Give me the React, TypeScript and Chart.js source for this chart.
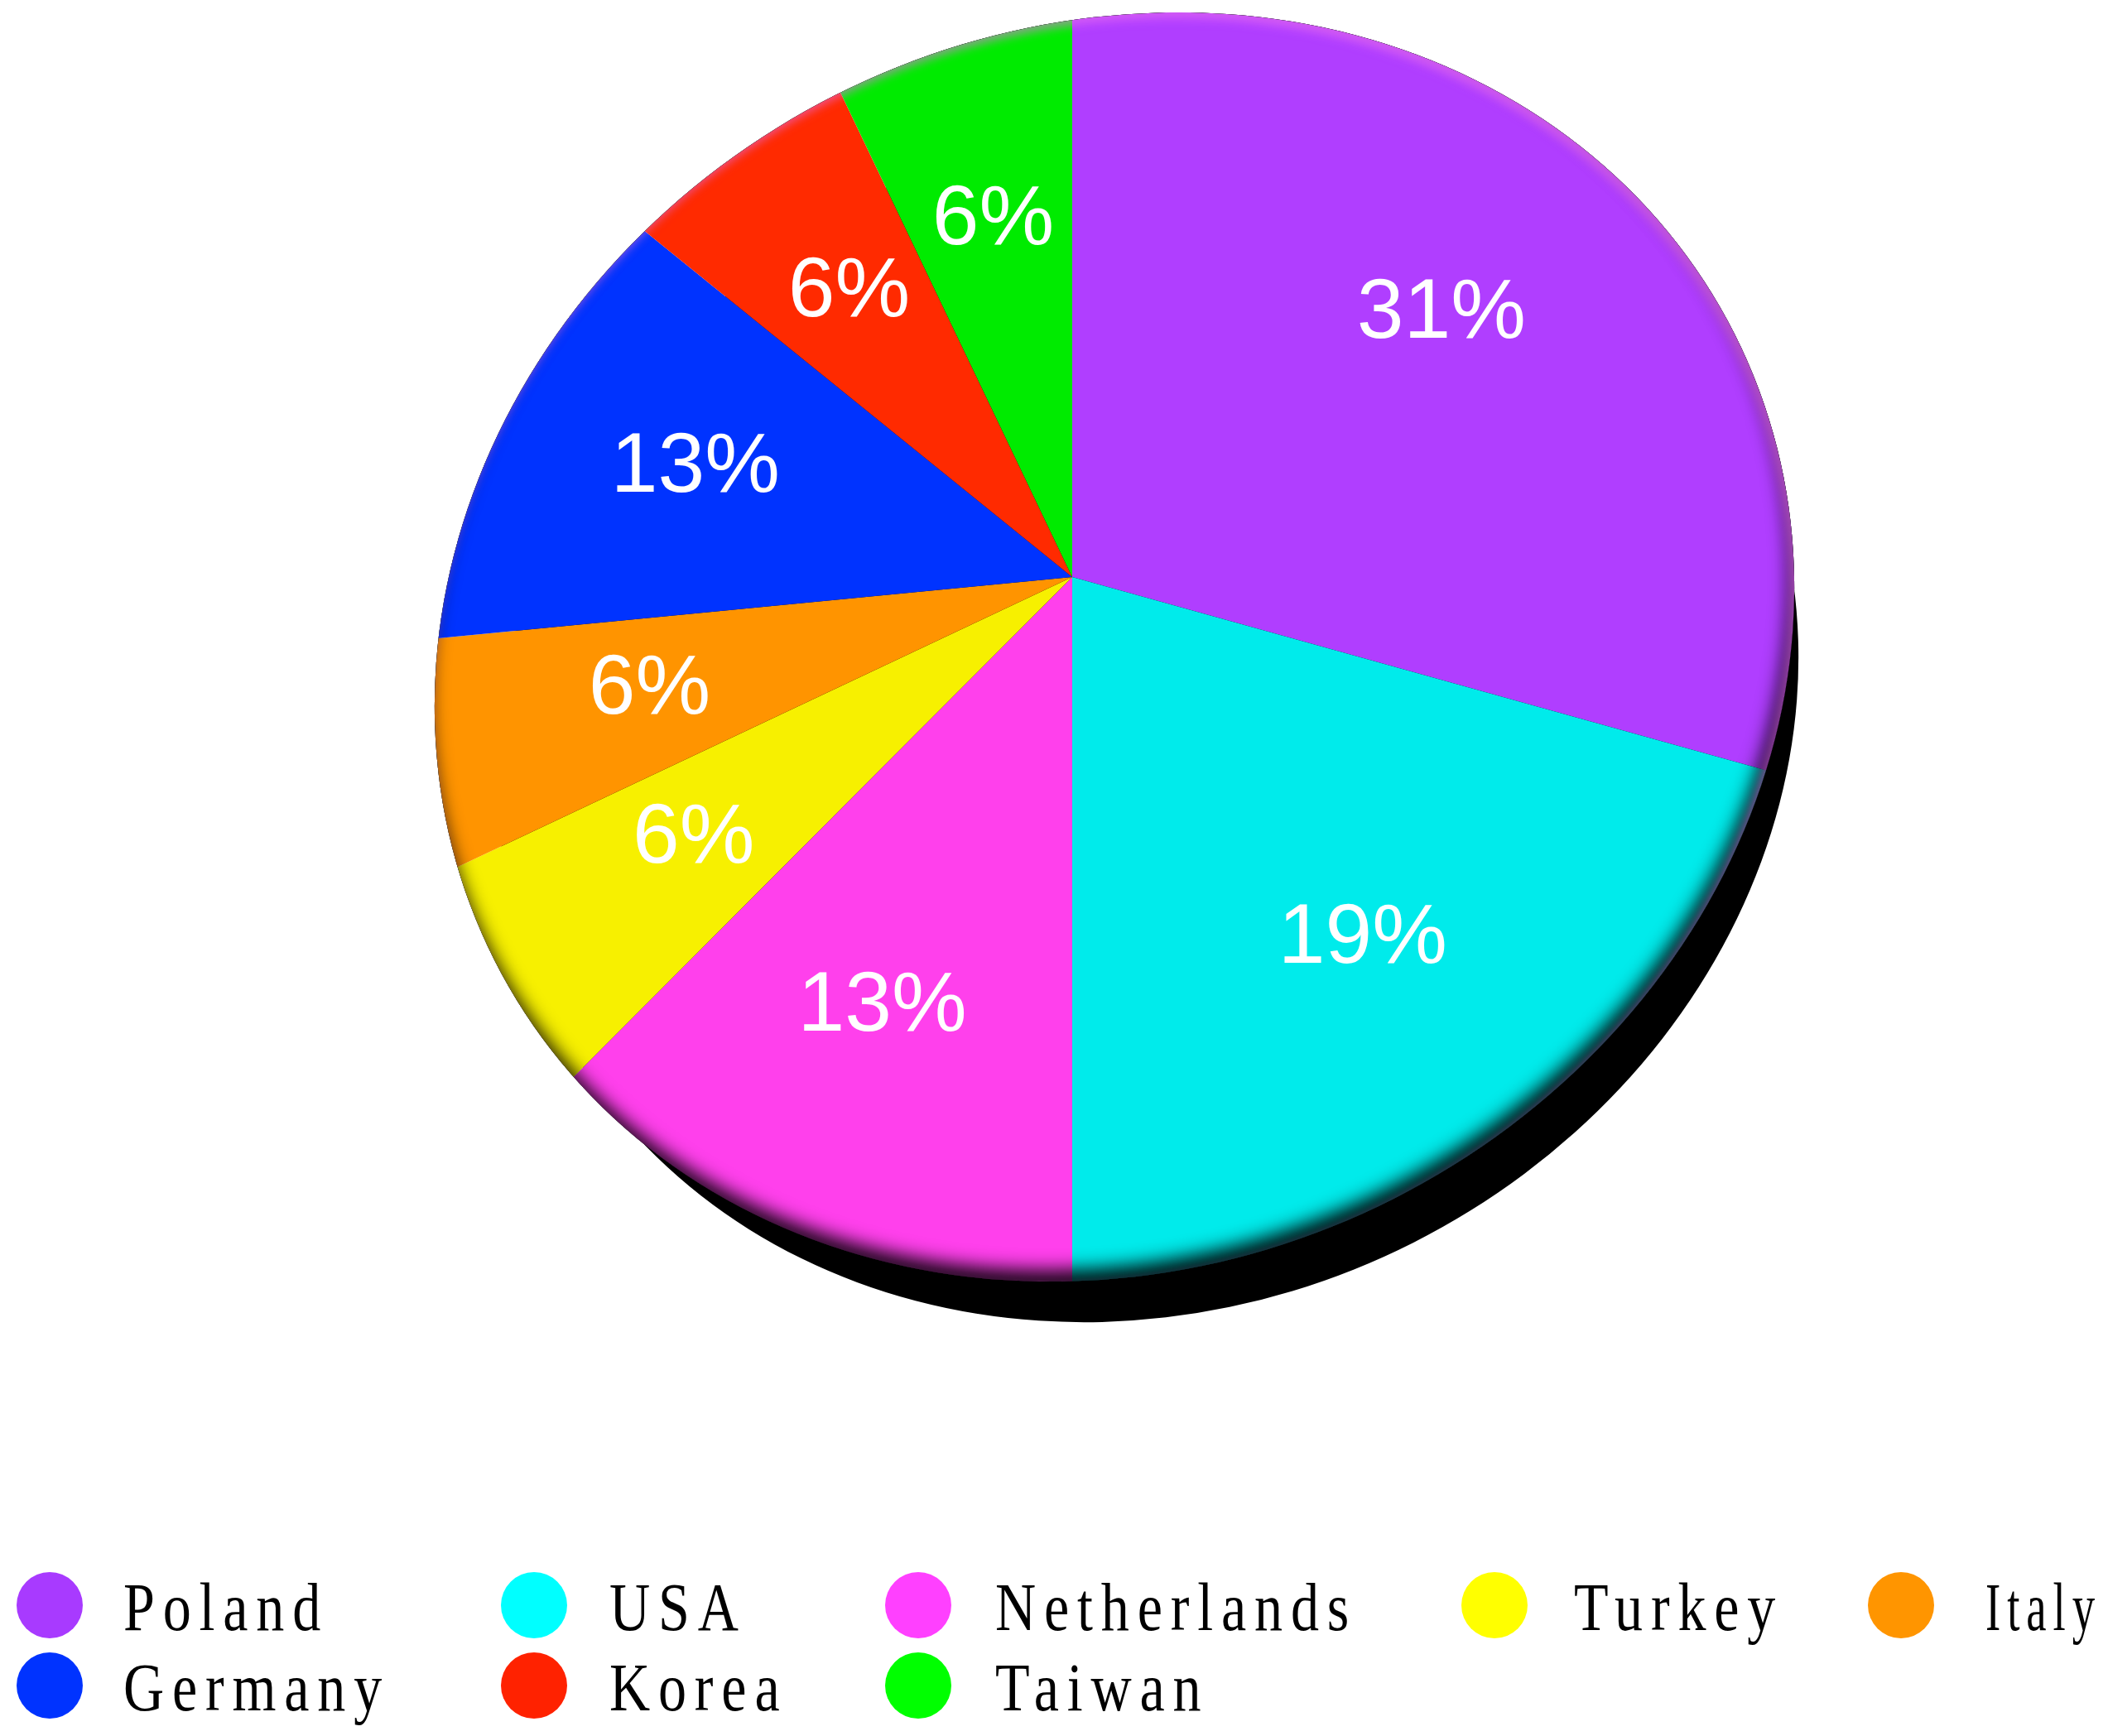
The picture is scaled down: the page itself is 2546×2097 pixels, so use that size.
import React, { useEffect, useRef } from "react";
import { Chart, registerables } from "chart.js";

Chart.register(...registerables);

// ---- data ----
const countries = ["Poland", "USA", "Netherlands", "Turkey", "Italy", "Germany", "Korea", "Taiwan"];
const counts = [5, 3, 2, 1, 1, 2, 1, 1];
const sliceColors = ["#B03EFF", "#00EBEB", "#FF40EC", "#F7F000", "#FF9400", "#0033FF", "#FF2A00", "#00EB00"];
const legendColors = ["#A83AFF", "#00FFFF", "#FF40FF", "#FFFF00", "#FF9500", "#0033FF", "#FF2200", "#00FF00"];

// ---- layout / style ----
const W = 2546;
const H = 2097;
const RIM = { cx: 1346, cy: 781.5, rx: 839, ry: 747, rot: -0.468 };
const APEX = { x: 1295, y: 697 };
// tilt of the disc (linear map applied around the apex): x' = x, y' = TILT_B*x + TILT_D*y
const TILT_B = -0.0965;
const TILT_D = 0.906;
const PIE_R = 1150;
const SHADOW = { dx: 40, dy: 84, shrink: 35 };
const LABEL_FRAC = 0.665;
const LABEL_BASELINE_SHIFT = 24;
const LEGEND_COL_CX = [60, 645, 1109, 1805, 2296];
const LEGEND_COL_TX = [149, 736, 1202, 1901, 2398];
const LEGEND_ROW_CY = [1939, 2036];
const LEGEND_PER_ROW = 5;
const LEGEND_SCALE_X = 0.82;

function rimPath(ctx: CanvasRenderingContext2D, dx = 0, dy = 0, shrink = 0) {
  ctx.beginPath();
  ctx.ellipse(RIM.cx + dx, RIM.cy + dy, RIM.rx - shrink, RIM.ry - shrink, RIM.rot, 0, Math.PI * 2);
  ctx.closePath();
}

function innerGlow(ctx: CanvasRenderingContext2D, color: string, blur: number, ox: number, oy: number) {
  ctx.save();
  rimPath(ctx);
  ctx.clip();
  ctx.beginPath();
  ctx.rect(-6000, -6000, 16000, 16000);
  const sx = RIM.cx + RIM.rx * Math.cos(RIM.rot);
  const sy = RIM.cy + RIM.rx * Math.sin(RIM.rot);
  ctx.moveTo(sx, sy);
  ctx.ellipse(RIM.cx, RIM.cy, RIM.rx, RIM.ry, RIM.rot, 0, Math.PI * 2);
  ctx.closePath();
  ctx.shadowColor = color;
  ctx.shadowBlur = blur;
  ctx.shadowOffsetX = ox;
  ctx.shadowOffsetY = oy;
  ctx.fillStyle = "#000";
  ctx.fill("evenodd");
  ctx.restore();
}

function rimDistance(dx: number, dy: number) {
  const c = Math.cos(RIM.rot);
  const s = Math.sin(RIM.rot);
  const px = APEX.x - RIM.cx;
  const py = APEX.y - RIM.cy;
  const qx = px * c + py * s;
  const qy = -px * s + py * c;
  const lx = dx * c + dy * s;
  const ly = -dx * s + dy * c;
  const a2 = RIM.rx * RIM.rx;
  const b2 = RIM.ry * RIM.ry;
  const A = (lx * lx) / a2 + (ly * ly) / b2;
  const B = 2 * ((qx * lx) / a2 + (qy * ly) / b2);
  const C = (qx * qx) / a2 + (qy * qy) / b2 - 1;
  return (-B + Math.sqrt(B * B - 4 * A * C)) / (2 * A);
}

const perspectivePie = {
  id: "perspectivePie",
  beforeDatasetsDraw(chart: any) {
    const ctx: CanvasRenderingContext2D = chart.ctx;
    const meta = chart.getDatasetMeta(0);
    const arc = meta.data[0];
    ctx.save();
    rimPath(ctx, SHADOW.dx, SHADOW.dy, SHADOW.shrink);
    ctx.fillStyle = "#000";
    ctx.fill();
    rimPath(ctx);
    ctx.clip();
    const k = PIE_R / arc.outerRadius;
    ctx.translate(APEX.x, APEX.y);
    ctx.transform(1, TILT_B, 0, TILT_D, 0, 0);
    ctx.scale(k, k);
    ctx.translate(-arc.x, -arc.y);
  },
  afterDatasetsDraw(chart: any) {
    const ctx: CanvasRenderingContext2D = chart.ctx;
    ctx.restore();
    innerGlow(ctx, "rgba(0,0,0,0.9)", 22, -6, -14);
    innerGlow(ctx, "rgba(255,120,255,0.55)", 12, -5, 7);

    const meta = chart.getDatasetMeta(0);
    const values: number[] = chart.data.datasets[0].data;
    const total = values.reduce((a, b) => a + b, 0);
    ctx.save();
    ctx.fillStyle = "#FFFFFF";
    ctx.font = '102px "Liberation Sans", Arial, sans-serif';
    ctx.textAlign = "center";
    ctx.textBaseline = "alphabetic";
    meta.data.forEach((arc: any, i: number) => {
      const mid = (arc.startAngle + arc.endAngle) / 2;
      const ux = Math.cos(mid);
      const uy = Math.sin(mid);
      let vx = ux;
      let vy = TILT_B * ux + TILT_D * uy;
      const len = Math.hypot(vx, vy);
      vx /= len;
      vy /= len;
      const t = rimDistance(vx, vy) * LABEL_FRAC;
      const x = APEX.x + vx * t;
      const y = APEX.y + vy * t;
      const pct = Math.round((values[i] / total) * 100) + "%";
      ctx.fillText(pct, x, y + LABEL_BASELINE_SHIFT);
    });
    ctx.restore();
  },
  afterDraw(chart: any) {
    const ctx: CanvasRenderingContext2D = chart.ctx;
    const labels: string[] = chart.data.labels;
    labels.forEach((lab, i) => {
      const row = Math.floor(i / LEGEND_PER_ROW);
      const col = i % LEGEND_PER_ROW;
      const cx = LEGEND_COL_CX[col];
      const cy = LEGEND_ROW_CY[row];
      ctx.save();
      ctx.beginPath();
      ctx.arc(cx, cy, 40, 0, Math.PI * 2);
      ctx.fillStyle = legendColors[i];
      ctx.fill();
      const tx = LEGEND_COL_TX[col];
      ctx.translate(tx, cy + 30);
      ctx.scale(LEGEND_SCALE_X, 1);
      ctx.font = '83px "Liberation Serif", "Times New Roman", serif';
      (ctx as any).letterSpacing = "12px";
      ctx.textAlign = "left";
      ctx.textBaseline = "alphabetic";
      ctx.fillStyle = "#000";
      ctx.fillText(lab, 0, 0, (W - tx - 8) / LEGEND_SCALE_X);
      ctx.restore();
    });
  },
};

export default function App() {
  const ref = useRef<HTMLCanvasElement>(null);
  useEffect(() => {
    document.body.style.margin = "0";
    const chart = new Chart(ref.current as HTMLCanvasElement, {
      type: "pie",
      data: {
        labels: countries,
        datasets: [
          {
            data: counts,
            backgroundColor: sliceColors,
            borderWidth: 0,
            clip: false,
          } as any,
        ],
      },
      options: {
        responsive: false,
        animation: false,
        devicePixelRatio: 1,
        events: [],
        layout: { padding: 0 },
        plugins: {
          legend: { display: false },
          tooltip: { enabled: false },
        },
      },
      plugins: [perspectivePie as any],
    });
    return () => chart.destroy();
  }, []);
  return <canvas ref={ref} width={W} height={H} style={{ display: "block", width: W, height: H }} />;
}
